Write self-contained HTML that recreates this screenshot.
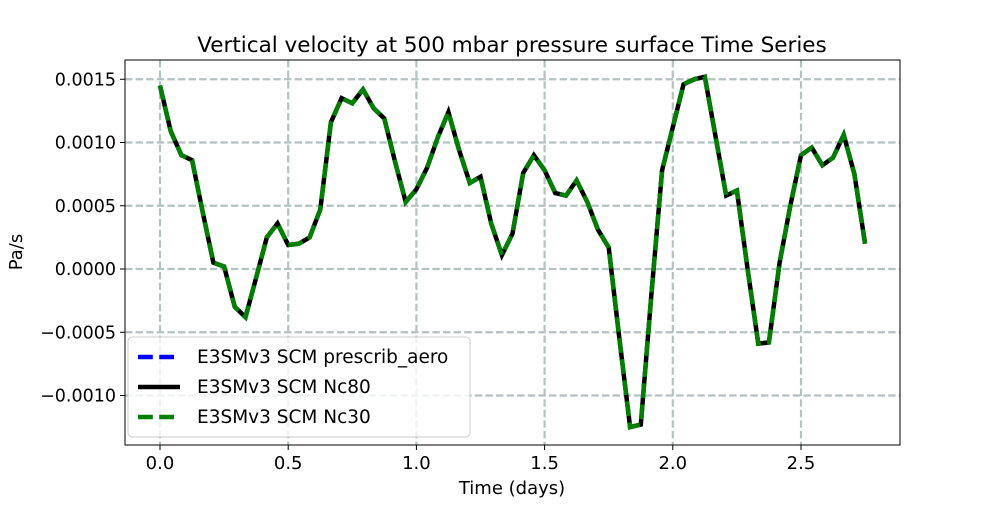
<!DOCTYPE html>
<html><head><meta charset="utf-8"><style>
body{margin:0;background:#fff;font-family:"Liberation Sans","DejaVu Sans",sans-serif}
svg text{font-family:"DejaVu Sans","Liberation Sans",sans-serif}
</style></head><body>
<svg id="chart" width="1000" height="500" xmlns="http://www.w3.org/2000/svg">
<rect width="1000" height="500" fill="#fff"/>
<g id="grid"></g>
<g id="series"></g>
<rect x="125" y="60" width="775" height="385" fill="none" stroke="#000" stroke-width="1"/>
<g id="ticks"></g>
<text x="512" y="52" font-size="21.5" text-anchor="middle">Vertical velocity at 500 mbar pressure surface Time Series</text>
<text x="512" y="494" font-size="18" text-anchor="middle">Time (days)</text>
<text transform="translate(22,252) rotate(-90)" font-size="18" text-anchor="middle">Pa/s</text>
<g>
<rect x="128" y="337" width="342" height="100" rx="4" fill="#fff" fill-opacity="0.8" stroke="#ccc"/>
<line x1="138" y1="357" x2="180" y2="357" stroke="#0000ff" stroke-width="4.5" stroke-dasharray="14.8,6.4"/>
<text x="197" y="363" font-size="18.5">E3SMv3 SCM prescrib_aero</text>
<line x1="138" y1="387" x2="180" y2="387" stroke="#000" stroke-width="4.5"/>
<text x="197" y="393" font-size="18.5">E3SMv3 SCM Nc80</text>
<line x1="138" y1="417" x2="180" y2="417" stroke="#008000" stroke-width="4.5" stroke-dasharray="14.8,6.4"/>
<text x="197" y="423" font-size="18.5">E3SMv3 SCM Nc30</text>
</g>
</svg>
<script>
const values = [0.00145,0.00109,0.00090,0.00086,0.00045,0.00005,0.00002,-0.00030,-0.00038,-0.00007,
0.00025,0.00036,0.00019,0.00020,0.00025,0.00047,0.00116,0.00135,0.00131,0.00142,
0.00127,0.00119,0.00085,0.00053,0.00063,0.00080,0.00104,0.00124,0.00094,0.00068,
0.00073,0.00036,0.00011,0.00028,0.00076,0.00090,0.00078,0.00060,0.00058,0.00070,
0.00053,0.00031,0.00017,-0.00055,-0.00125,-0.00123,-0.00020,0.00078,0.00112,0.00146,
0.00150,0.00152,0.00105,0.00058,0.00062,0.00000,-0.00059,-0.00058,0.00005,0.00050,
0.00090,0.00096,0.00082,0.00088,0.00106,0.00075,0.00020];
const xTicks = [0.0,0.5,1.0,1.5,2.0,2.5];
const xTickLabels = ["0.0","0.5","1.0","1.5","2.0","2.5"];
const yTicks = [-0.0010,-0.0005,0.0,0.0005,0.0010,0.0015];
const yTickLabels = ["\u22120.0010","\u22120.0005","0.0000","0.0005","0.0010","0.0015"];
const stepDays = 1/24;
const X = d => 160 + d*256.4;
const Y = v => 269 - v*126500;
const NS = "http://www.w3.org/2000/svg";
function mk(tag, attrs, parent){const e=document.createElementNS(NS,tag);for(const k in attrs)e.setAttribute(k,attrs[k]);parent.appendChild(e);return e;}
const grid=document.getElementById('grid'), ticks=document.getElementById('ticks'), series=document.getElementById('series');
xTicks.forEach((t,i)=>{
  const g=mk('line',{x1:X(t),x2:X(t),y1:60,y2:445,stroke:'#b4c2c2','stroke-width':2.2,'stroke-dasharray':'7.4,3.2'},grid);
  
  
  mk('line',{x1:X(t),x2:X(t),y1:445,y2:450,stroke:'#000'},ticks);
  const tx=mk('text',{x:X(t),y:469,'font-size':18,'text-anchor':'middle'},ticks);
  tx.textContent=xTickLabels[i];
  
  
});
yTicks.forEach((t,i)=>{
  const g=mk('line',{x1:125,x2:900,y1:Y(t),y2:Y(t),stroke:'#b4c2c2','stroke-width':2.2,'stroke-dasharray':'7.4,3.2'},grid);
  
  
  mk('line',{x1:120,x2:125,y1:Y(t),y2:Y(t),stroke:'#000'},ticks);
  const tx=mk('text',{x:116,y:Y(t)+6,'font-size':17.5,'text-anchor':'end'},ticks);
  tx.textContent=yTickLabels[i];
  
  
});
const pts=values.map((v,i)=>X(i*stepDays).toFixed(1)+','+Y(v).toFixed(1)).join(' ');
const s1=mk('polyline',{points:pts,fill:'none',stroke:'#0000ff','stroke-width':4,'stroke-dasharray':'14.8,6.4'},series);


const s2=mk('polyline',{points:pts,fill:'none',stroke:'#000','stroke-width':4.5},series);


const s3=mk('polyline',{points:pts,fill:'none',stroke:'#008000','stroke-width':4.5,'stroke-dasharray':'14.8,6.4'},series);


</script>
</body></html>
